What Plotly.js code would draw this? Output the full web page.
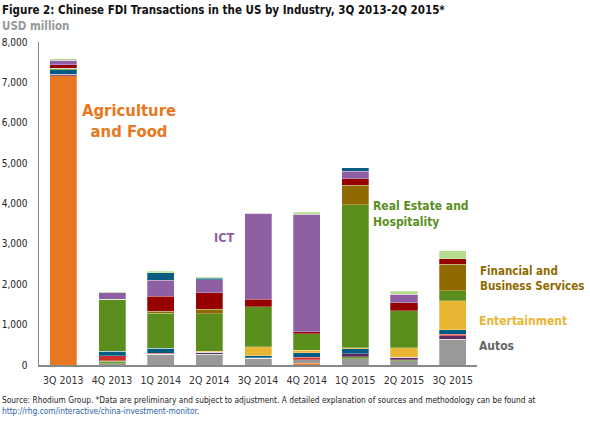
<!DOCTYPE html>
<html>
<head>
<meta charset="utf-8">
<script src="https://cdn.plot.ly/plotly-3.0.1.min.js"></script>
<style>
html,body{margin:0;padding:0;background:#fff;}
#chart{width:590px;height:424px;}
</style>
</head>
<body>
<div id="chart"></div>
<script>
const quarters = ["3Q 2013","4Q 2013","1Q 2014","2Q 2014","3Q 2014","4Q 2014","1Q 2015","2Q 2015","3Q 2015"];

// USD million, stacked bottom to top
const agricultureFood   = [7160,   0,   0,   0,   0,  41,    0,   0,   0];
const autos             = [   0,  25, 265, 265, 165,  91,  149, 107, 637];
const basicMaterials    = [   0,  65,   0,   0,   0,   0,   50,  25,   0];
const consumerProducts  = [  40,  15,   0,  50,   0,   0,   74,  66,  83];
const electronics       = [   0, 130,  20,   0,  20,  66,    0,   0,  41];
const energy            = [ 115, 100, 124,   0,  50, 107,  132,   0, 107];
const entertainment     = [   0,   0,   0,  30, 215,  66,   25, 231, 719];
const realEstate        = [  33,1290, 876, 930, 992, 397, 3538, 918, 248];
const financialServices = [   0,   0,  41, 107,   0,   0,  479,   0, 660];
const industrial        = [  91,   0, 372, 405, 182,  50,  166, 189, 141];
const ict               = [ 107, 165, 397, 330,2134,2910,  181, 215,   0];
const transport         = [   0,   0, 190,  33,   0,   0,   91,   0,   0];
const other             = [  41,  30,  33,  25,   0,  57,    0,  74, 200];

const seriesNames = ["Agriculture and Food","Autos","Basic Materials","Consumer Products","Electronics","Energy","Entertainment","Real Estate and Hospitality","Financial and Business Services","Industrial Machinery","ICT","Transport","Other"];
const seriesValues = [agricultureFood, autos, basicMaterials, consumerProducts, electronics, energy, entertainment, realEstate, financialServices, industrial, ict, transport, other];
const seriesColors = ["#E87722","#999999","#6E9A2E","#5B2A60","#CC2E2B","#005B85","#E9B634","#5A8F1E","#8F6A00","#960000","#8F5FA3","#0A5C80","#B5DD8C"];

const narrow = "DejaVu Sans Condensed, Liberation Sans Narrow, DejaVu Sans, sans-serif";
function f(size, color, weight) {
  return {family: narrow, size: size, color: color, stretch: "condensed", weight: weight || "normal"};
}

const traces = seriesNames.map((n, i) => ({
  type: "bar",
  name: n,
  x: quarters,
  y: seriesValues[i],
  marker: {color: seriesColors[i], line: {color: "rgba(255,255,255,0.45)", width: 0.6}},
  hoverinfo: "name+y"
}));

const layout = {
  width: 590, height: 424,
  barmode: "stack",
  bargap: 0.445,
  showlegend: false,
  paper_bgcolor: "#fff",
  plot_bgcolor: "#fff",
  margin: {l: 39, r: 113, t: 42, b: 59},
  xaxis: {
    showgrid: false, zeroline: false,
    showline: true, linecolor: "#888", linewidth: 1.5,
    ticks: "",
    tickfont: f(10.5, "#333"),
    ticklabelstandoff: 5
  },
  yaxis: {
    range: [0, 8000],
    tickvals: [0,1000,2000,3000,4000,5000,6000,7000,8000],
    tickformat: ",d",
    showgrid: false, zeroline: false,
    showline: true, linecolor: "#888", linewidth: 1.5,
    ticks: "",
    tickfont: f(10, "#222"),
    ticklabelstandoff: 8
  },
  annotations: [
    {xref:"paper", yref:"paper", x:-0.089, y:1.07, xanchor:"left", yanchor:"bottom", showarrow:false, align:"left",
     text:"Figure 2: Chinese FDI Transactions in the US by Industry, 3Q 2013-2Q 2015*",
     font:f(11.5, "#111", "bold")},
    {xref:"paper", yref:"paper", x:-0.089, y:1.022, xanchor:"left", yanchor:"bottom", showarrow:false, align:"left",
     text:"USD million",
     font:f(11.5, "#999", "bold")},
    {xref:"x", yref:"y", x:1.35, y:6050, xanchor:"center", yanchor:"middle", showarrow:false, align:"center",
     text:"Agriculture<br>and Food",
     font:f(16.5, "#E87722", "bold")},
    {xref:"x", yref:"y", x:3.3, y:3150, xanchor:"center", yanchor:"middle", showarrow:false,
     text:"ICT",
     font:f(12.5, "#8F5FA3", "bold")},
    {xref:"x", yref:"y", x:6.33, y:3750, xanchor:"left", yanchor:"middle", showarrow:false, align:"left",
     text:"Real Estate and<br>Hospitality",
     font:f(12, "#5A8F1E", "bold")},
    {xref:"paper", yref:"y", x:1.003, y:2150, xanchor:"left", yanchor:"middle", showarrow:false, align:"left",
     text:"Financial and<br>Business Services",
     font:f(11.5, "#8F6A00", "bold")},
    {xref:"paper", yref:"y", x:1.0, y:1100, xanchor:"left", yanchor:"middle", showarrow:false, align:"left",
     text:"Entertainment",
     font:f(12, "#E9B634", "bold")},
    {xref:"paper", yref:"y", x:1.0, y:460, xanchor:"left", yanchor:"middle", showarrow:false, align:"left",
     text:"Autos",
     font:f(12, "#666", "bold")},
    {xref:"paper", yref:"paper", x:-0.089, y:-0.088, xanchor:"left", yanchor:"top", showarrow:false, align:"left",
     text:"Source: Rhodium Group. *Data are preliminary and subject to adjustment. A detailed explanation of sources and methodology can be found at<br><span style='color:#1F5FA8'>http://rhg.com/interactive/china-investment-monitor</span>.",
     font:f(8.3, "#222")}
  ]
};

Plotly.newPlot("chart", traces, layout, {displayModeBar: false, staticPlot: true});
</script>
</body>
</html>
